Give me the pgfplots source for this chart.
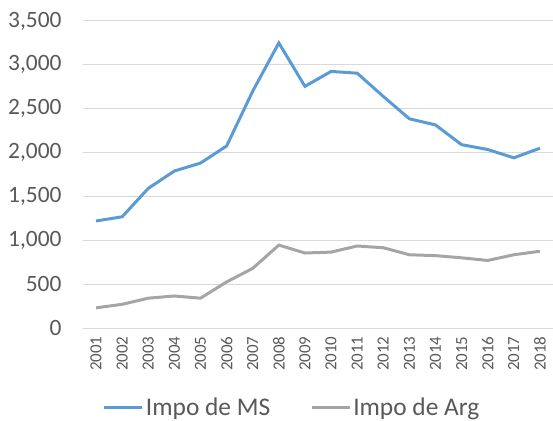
\documentclass[border=0pt]{standalone}
\usepackage{fontspec}
\setmainfont{Carlito}
\usepackage{pgfplots}
\pgfplotsset{compat=1.18}
\definecolor{msblue}{HTML}{5B9BD5}
\definecolor{arggray}{HTML}{A5A5A5}
\definecolor{gridc}{HTML}{D9D9D9}
\definecolor{txt}{HTML}{595959}
\begin{document}
\begin{tikzpicture}
\useasboundingbox (-83bp,-93bp) rectangle (470bp,328bp);
\begin{axis}[
  at={(0,0)}, anchor=south west,
  scale only axis, width=470bp, height=307bp,
  xmin=2000.5, xmax=2018.5, ymin=0, ymax=3500,
  xtick={2001,...,2018}, ytick={0,500,...,3500},
  axis line style={draw=none},
  major tick length=0pt,
  ymajorgrids, grid style={gridc, line width=1bp},
  /pgf/number format/assume math mode=true,
  /pgf/number format/1000 sep={,},
  xticklabel style={rotate=90, anchor=east, xshift=-5bp, font=\fontsize{17}{19}\selectfont, text=txt},
  yticklabel style={font=\fontsize{23.5}{25}\selectfont, text=txt, xshift=-18bp, anchor=east},
  xticklabel={\pgfmathprintnumber[set thousands separator={}]{\tick}},
  legend style={at={(0.445,-0.26)}, anchor=center, draw=none, font=\fontsize{25.5}{27}\selectfont, text=txt, /tikz/every even column/.append style={column sep=38bp}},
  legend columns=2,
  legend image code/.code={\draw[#1] (0bp,0bp) -- (38bp,0bp);},
]
\addplot[msblue, line width=3bp] coordinates {
(2001,1220) (2002,1268) (2003,1592) (2004,1790) (2005,1880) (2006,2075)
(2007,2700) (2008,3250) (2009,2755) (2010,2925) (2011,2905) (2012,2640)
(2013,2385) (2014,2315) (2015,2090) (2016,2035) (2017,1940) (2018,2050)};
\addlegendentry{Impo de MS}
\addplot[arggray, line width=3bp] coordinates {
(2001,230) (2002,270) (2003,340) (2004,365) (2005,340) (2006,525)
(2007,680) (2008,945) (2009,855) (2010,865) (2011,935) (2012,915)
(2013,835) (2014,825) (2015,800) (2016,770) (2017,835) (2018,875)};
\addlegendentry{Impo de Arg}
\end{axis}
\end{tikzpicture}
\end{document}
